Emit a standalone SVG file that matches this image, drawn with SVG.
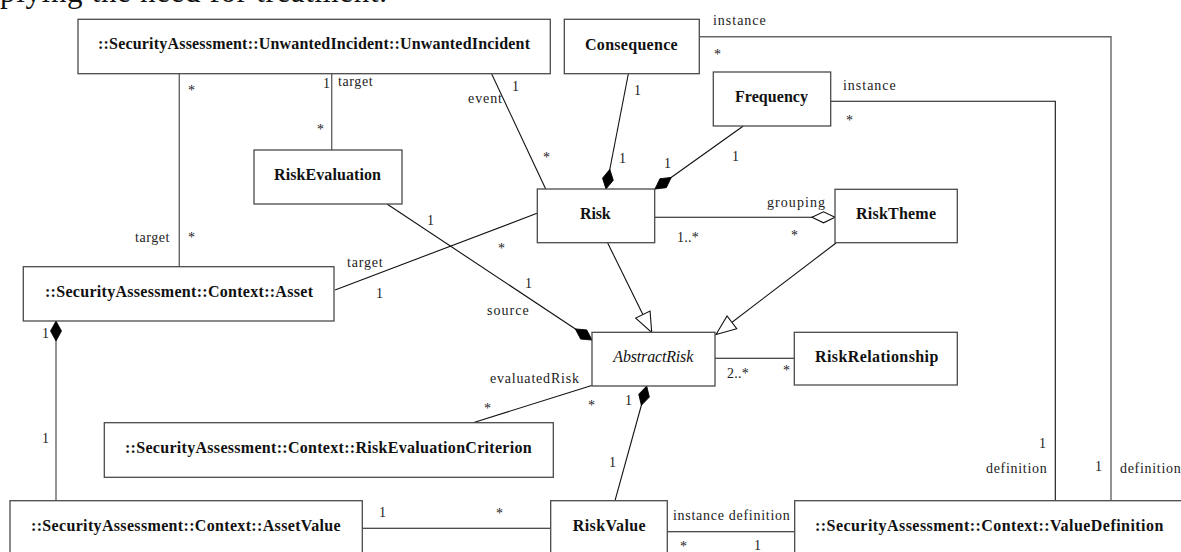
<svg xmlns="http://www.w3.org/2000/svg" width="1181" height="552" viewBox="0 0 1181 552">
<style>
.box{fill:#fff;stroke:#4a4a4a;stroke-width:1.3}
.name{font-family:"Liberation Serif",serif;font-weight:bold;font-size:16px;fill:#111}
.it{font-family:"Liberation Serif",serif;font-style:italic;font-size:16px;fill:#111}
.lbl{font-family:"Liberation Serif",serif;font-size:14px;fill:#222}
.ln{fill:none;stroke:#111;stroke-width:1.1}
.gl{fill:none;stroke:#666;stroke-width:1.4}
.top{font-family:"Liberation Serif",serif;font-size:31px;fill:#111}
</style>
<defs>
<marker id="comp" markerUnits="userSpaceOnUse" orient="auto" refX="20" refY="0" markerWidth="24" markerHeight="14" overflow="visible">
<path d="M0,0 L10,-5.5 L20,0 L10,5.5 z" fill="#000" stroke="#000" stroke-width="0.8"/>
</marker>
<marker id="agg" markerUnits="userSpaceOnUse" orient="auto" refX="23" refY="0" markerWidth="26" markerHeight="14" overflow="visible">
<path d="M0,0 L11.5,-5.5 L23,0 L11.5,5.5 z" fill="#fff" stroke="#111" stroke-width="1.1"/>
</marker>
<marker id="gen" markerUnits="userSpaceOnUse" orient="auto" refX="0" refY="0" markerWidth="24" markerHeight="20" overflow="visible">
<path d="M0,0 L-20,-8 L-20,8 z" fill="#fff" stroke="#111" stroke-width="1.1"/>
</marker>
</defs>

<text class="top" x="0" y="2" textLength="387">plying the need for treatment.</text>

<g id="connectors">
<path class="gl" d="M179.3,74 V267"/>
<path class="gl" d="M331.7,74 V150"/>
<path class="ln" d="M491.7,74 L545.7,189"/>
<path class="ln" d="M628.3,74 L606,189" marker-end="url(#comp)"/>
<path class="ln" d="M743.3,126 L655,189" marker-end="url(#comp)"/>
<path class="gl" d="M699.3,36.7 H1111 V500.7"/>
<path class="ln" d="M830.7,101.3 H1055.3 V500.7"/>
<path class="ln" d="M655,217.3 H835" marker-end="url(#agg)"/>
<path class="ln" d="M335,290 L537,213.3"/>
<path class="ln" d="M387,204 L592,340" marker-end="url(#comp)"/>
<path class="ln" d="M607.7,243 L651.7,332.5" marker-end="url(#gen)"/>
<path class="ln" d="M836,243 L716,334.5" marker-end="url(#gen)"/>
<path class="ln" d="M715,358.3 H794.3"/>
<path class="ln" d="M591.7,385.5 L473,422.7"/>
<path class="ln" d="M615,500.7 L646.7,386" marker-end="url(#comp)"/>
<path class="gl" d="M56,500.7 V321" marker-end="url(#comp)"/>
<path class="ln" d="M362.3,528.3 H550.7"/>
<path class="ln" d="M667.3,531.7 H794.7"/>
</g>

<g id="labels">
<text class="lbl" x="188" y="95">*</text>
<text class="lbl" x="323" y="88">1</text>
<text class="lbl" x="338" y="86" textLength="34.7">target</text>
<text class="lbl" x="317" y="134">*</text>
<text class="lbl" x="512" y="91">1</text>
<text class="lbl" x="468" y="103" textLength="34">event</text>
<text class="lbl" x="543" y="162">*</text>
<text class="lbl" x="634" y="95">1</text>
<text class="lbl" x="619" y="163">1</text>
<text class="lbl" x="732" y="161">1</text>
<text class="lbl" x="664" y="168">1</text>
<text class="lbl" x="713" y="25" textLength="52.7">instance</text>
<text class="lbl" x="714" y="59">*</text>
<text class="lbl" x="843" y="90" textLength="52.7">instance</text>
<text class="lbl" x="846" y="125">*</text>
<text class="lbl" x="135" y="242" textLength="34.3">target</text>
<text class="lbl" x="188" y="242">*</text>
<text class="lbl" x="347" y="267" textLength="35.7">target</text>
<text class="lbl" x="376" y="298">1</text>
<text class="lbl" x="498" y="253">*</text>
<text class="lbl" x="427" y="225">1</text>
<text class="lbl" x="525" y="288">1</text>
<text class="lbl" x="487" y="315" textLength="41.7">source</text>
<text class="lbl" x="767" y="207" textLength="58">grouping</text>
<text class="lbl" x="677" y="242" textLength="21.7">1..*</text>
<text class="lbl" x="791" y="240">*</text>
<text class="lbl" x="727" y="378" textLength="21.7">2..*</text>
<text class="lbl" x="783" y="375">*</text>
<text class="lbl" x="490" y="383" textLength="89">evaluatedRisk</text>
<text class="lbl" x="484" y="413">*</text>
<text class="lbl" x="588" y="410">*</text>
<text class="lbl" x="625" y="405">1</text>
<text class="lbl" x="609" y="467">1</text>
<text class="lbl" x="42" y="338">1</text>
<text class="lbl" x="42" y="443">1</text>
<text class="lbl" x="379" y="517">1</text>
<text class="lbl" x="496" y="518">*</text>
<text class="lbl" x="673" y="520" textLength="116.7">instance definition</text>
<text class="lbl" x="680" y="551">*</text>
<text class="lbl" x="754" y="550">1</text>
<text class="lbl" x="1039" y="448">1</text>
<text class="lbl" x="986" y="473" textLength="60.7">definition</text>
<text class="lbl" x="1095" y="471">1</text>
<text class="lbl" x="1120" y="473" textLength="60.7">definition</text>
</g>

<g id="UnwantedIncident">
<rect class="box" x="78" y="19.3" width="472.3" height="54.4"/>
<text class="name" x="98" y="49" textLength="432">::SecurityAssessment::UnwantedIncident::UnwantedIncident</text>
</g>
<g id="Consequence">
<rect class="box" x="564.3" y="19.3" width="135" height="54.4"/>
<text class="name" x="585" y="50" textLength="92.7">Consequence</text>
</g>
<g id="Frequency">
<rect class="box" x="713.3" y="72" width="117.4" height="54"/>
<text class="name" x="735" y="101.7" textLength="73">Frequency</text>
</g>
<g id="RiskEvaluation">
<rect class="box" x="254" y="150" width="148" height="54"/>
<text class="name" x="274" y="179.5" textLength="107">RiskEvaluation</text>
</g>
<g id="Risk">
<rect class="box" x="537.3" y="189" width="117.4" height="53.7"/>
<text class="name" x="580" y="218.5" textLength="30.7">Risk</text>
</g>
<g id="RiskTheme">
<rect class="box" x="835" y="189.3" width="122.3" height="53.4"/>
<text class="name" x="856" y="218.5" textLength="80">RiskTheme</text>
</g>
<g id="Asset">
<rect class="box" x="23.3" y="266.7" width="310.7" height="54.3"/>
<text class="name" x="45" y="296.7" textLength="268">::SecurityAssessment::Context::Asset</text>
</g>
<g id="AbstractRisk">
<rect class="box" x="592" y="332.3" width="123" height="53.7"/>
<text class="it" x="613.3" y="361.7" textLength="80">AbstractRisk</text>
</g>
<g id="RiskRelationship">
<rect class="box" x="794.3" y="332.3" width="163" height="52.7"/>
<text class="name" x="815" y="361.7" textLength="123.3">RiskRelationship</text>
</g>
<g id="RiskEvaluationCriterion">
<rect class="box" x="104.3" y="422.7" width="449" height="54.6"/>
<text class="name" x="125" y="453" textLength="406.7">::SecurityAssessment::Context::RiskEvaluationCriterion</text>
</g>
<g id="AssetValue">
<rect class="box" x="10" y="500.7" width="352.3" height="60"/>
<text class="name" x="31" y="531" textLength="309.7">::SecurityAssessment::Context::AssetValue</text>
</g>
<g id="RiskValue">
<rect class="box" x="550.7" y="500.7" width="116.6" height="60"/>
<text class="name" x="572.7" y="531" textLength="73">RiskValue</text>
</g>
<g id="ValueDefinition">
<rect class="box" x="794.7" y="500.7" width="400" height="60"/>
<text class="name" x="815" y="531" textLength="348.3">::SecurityAssessment::Context::ValueDefinition</text>
</g>
</svg>
